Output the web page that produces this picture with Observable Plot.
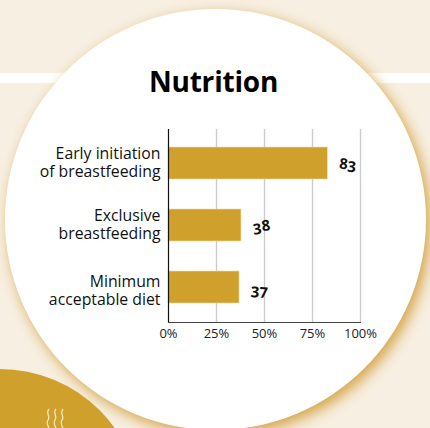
<!DOCTYPE html>
<html>
<head>
<meta charset="utf-8">
<script src="https://cdn.jsdelivr.net/npm/d3@7"></script>
<script src="https://cdn.jsdelivr.net/npm/@observablehq/plot@0.6"></script>
<style>
html,body{margin:0;padding:0;background:#f6eee0;}
#stage{position:relative;width:430px;height:428px;overflow:hidden;background:#f7efe2;font-family:"Open Sans",sans-serif;}
.band{position:absolute;left:0;top:73px;width:430px;height:10px;background:#fff;}
.disc{position:absolute;left:5px;top:9px;width:421px;height:421px;border-radius:50%;background:#fff;box-shadow:4px 5px 14px #d4a445;}
.sun{position:absolute;left:-141px;top:369px;width:282px;height:282px;border-radius:50%;background:#d0a02c;}
.steam{position:absolute;left:44px;top:408px;}
.title{position:absolute;left:0;width:427px;top:62px;text-align:center;font:700 28px/38px "Open Sans",sans-serif;letter-spacing:-0.2px;color:#000;}
#chart{position:absolute;left:0;top:0;}
#chart svg{display:block;background:transparent;}
</style>
</head>
<body>
<div id="stage">
  <div class="band"></div>
  <div class="disc"></div>
  <div class="sun"></div>
  <svg class="steam" width="24" height="20" fill="none" stroke="#f6e6c4" stroke-width="1.3">
    <path d="M5 1C1 5 7 8 4 12C2 15 4 18 5 20"/>
    <path d="M12 1C8 5 14 8 11 12C9 15 11 18 12 20"/>
    <path d="M19 1C15 5 21 8 18 12C16 15 18 18 19 20"/>
  </svg>
  <div class="title">Nutrition</div>
  <div id="chart"></div>
</div>
<script>
const categories = ["Early initiation\nof breastfeeding", "Exclusive\nbreastfeeding", "Minimum\nacceptable diet"];
const values = [83, 38, 37];
const ticks = [0, 25, 50, 75, 100];
const table = categories.map((category, i) => ({category, value: values[i]}));
const tilt = {83: 6, 38: -8, 37: 3};
const labelNudge = {83: -1, 38: -1, 37: 3};
const valueNudge = {83: 1, 38: 1, 37: 3};

const plot = Plot.plot({
  width: 430,
  height: 428,
  marginLeft: 168,
  marginRight: 70,
  marginTop: 129,
  marginBottom: 106,
  style: {background: "transparent", fontFamily: "'Open Sans',sans-serif", color: "#111"},
  x: {domain: [0, 100], axis: null},
  y: {domain: categories, padding: 0.49, paddingOuter: 0.29, align: 0.47, axis: null},
  marks: [
    Plot.ruleX(ticks.slice(1), {stroke: "#cbcbcb", strokeWidth: 1.4}),
    Plot.barX(table, {x: "value", y: "category", fill: "#d0a02c", stroke: "#efdcae", strokeWidth: 0.6}),
    Plot.ruleX([0], {stroke: "#111", strokeWidth: 1.2}),
    Plot.frame({anchor: "bottom", stroke: "#444", strokeWidth: 1.2}),
    ...table.map(row => Plot.text([row], {
      x: 0, y: "category", text: "category", dx: -8, dy: labelNudge[row.value], textAnchor: "end",
      fontSize: 15.8, lineHeight: 1.1, fill: "#111"
    })),
    ...table.map(row => Plot.text([row], {
      x: "value", y: "category", text: d => String(d.value), dx: 20, dy: valueNudge[row.value],
      rotate: tilt[row.value], fontSize: 15, fontWeight: 700, fill: "#111",
      fontVariant: "oldstyle-nums"
    })),
    Plot.text(ticks, {
      x: d => d, frameAnchor: "bottom", dy: 15, text: d => d + "%",
      fontSize: 13, fill: "#222"
    })
  ]
});
document.getElementById("chart").append(plot);
</script>
</body>
</html>
